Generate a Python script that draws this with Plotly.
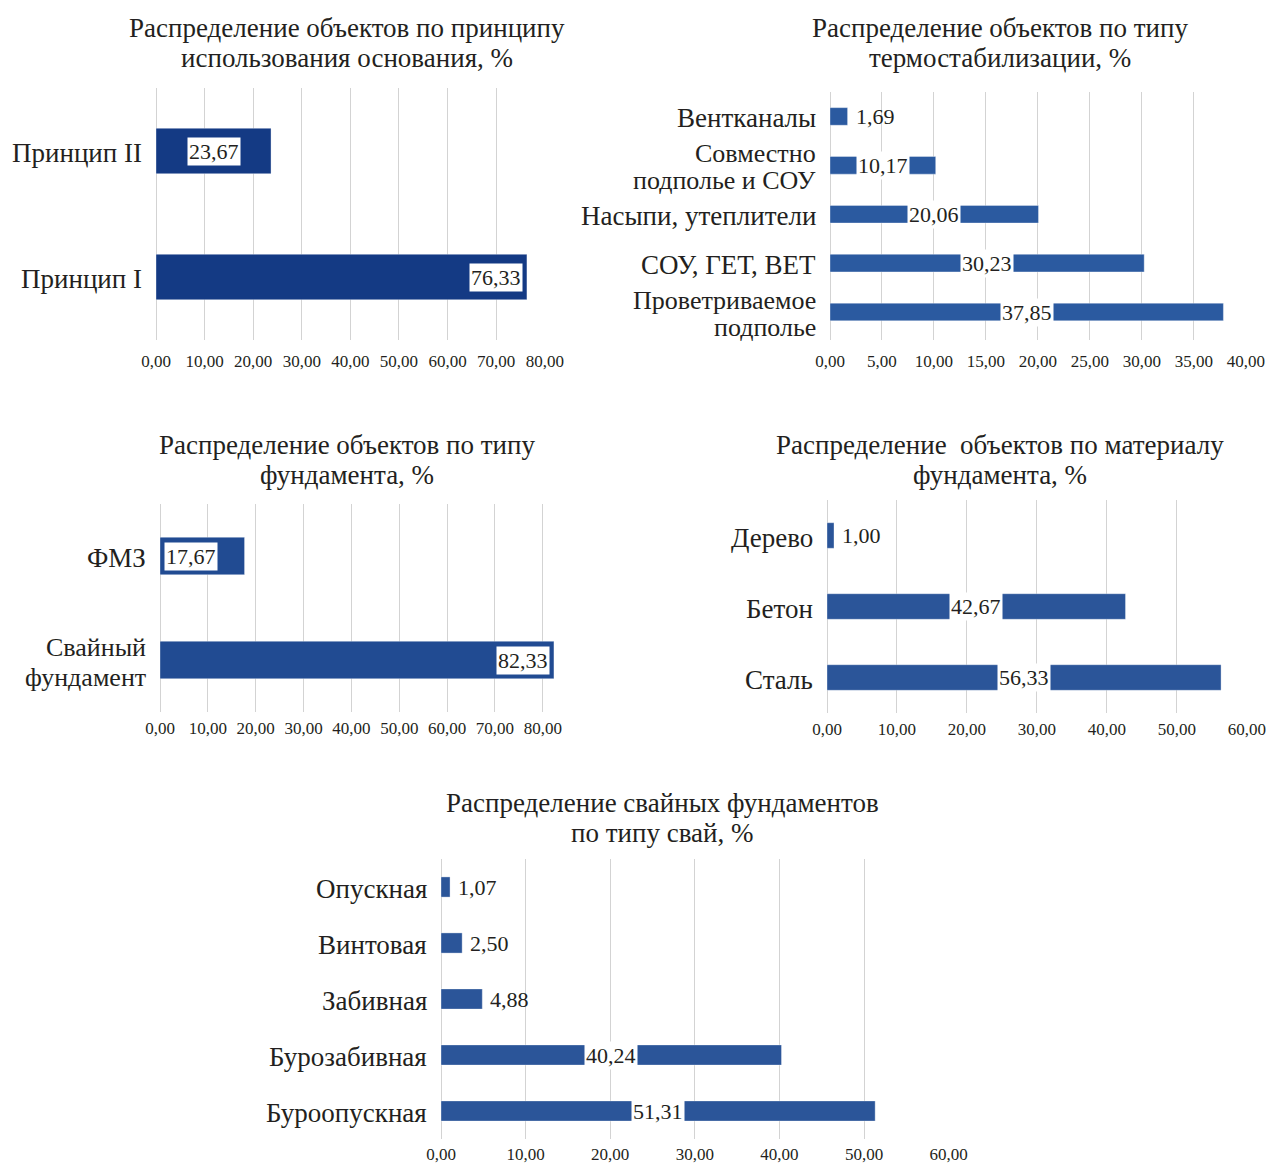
import plotly.graph_objects as go

W, H = 1269, 1165

# ---------------- data ----------------
p1_cats = ["Принцип II", "Принцип I"]
p1_vals = [23.67, 76.33]
p1_lab = ["center", "end"]

p2_cats = ["Вентканалы", "Совместно<br>подполье и СОУ", "Насыпи, утеплители",
           "СОУ, ГЕТ, ВЕТ", "Проветриваемое<br>подполье"]
p2_vals = [1.69, 10.17, 20.06, 30.23, 37.85]
p2_lab = ["outside", "center", "center", "center", "center"]

p3_cats = ["ФМЗ", "Свайный<br>фундамент"]
p3_vals = [17.67, 82.33]
p3_lab = ["base", "end"]

p4_cats = ["Дерево", "Бетон", "Сталь"]
p4_vals = [1.00, 42.67, 56.33]
p4_lab = ["outside", "center", "center"]

p5_cats = ["Опускная", "Винтовая", "Забивная", "Бурозабивная", "Буроопускная"]
p5_vals = [1.07, 2.50, 4.88, 40.24, 51.31]
p5_lab = ["outside", "outside", "outside", "center", "center"]

titles = [
    "Распределение объектов по принципу<br>использования основания, %",
    "Распределение объектов по типу<br>термостабилизации, %",
    "Распределение объектов по типу<br>фундамента, %",
    "Распределение  объектов по материалу<br>фундамента, %",
    "Распределение свайных фундаментов<br>по типу свай, %",
]

# ---------------- style / layout ----------------
FONT = "Liberation Serif, Times New Roman, serif"
TXT = "#231f20"
GRID = "#d3d3d3"

panels = [
    # cats, vals, labs, color, x0px, x1px, range, dtick, ytop, ybot, title cx, title y1, cat line gap, tick standoff
    (p1_cats, p1_vals, p1_lab, "#143a84", 156, 545, [0, 80], 10, 88, 340, 347, 28, 27, 9),
    (p2_cats, p2_vals, p2_lab, "#2b5aa0", 830, 1246, [0, 40], 5, 92, 340, 1000, 28, 27, 9),
    (p3_cats, p3_vals, p3_lab, "#214b92", 160, 555, [0, 82.5], 10, 504, 712, 347, 445, 30, 4),
    (p4_cats, p4_vals, p4_lab, "#2b5599", 827, 1247, [0, 60], 10, 500, 713, 1000, 445, 27, 4),
    (p5_cats, p5_vals, p5_lab, "#2b5599", 441, 949, [0, 60], 10, 859, 1139, 662, 803, 27, 3),
]

fig = go.Figure()
annotations = []
layout = {}

for i, (cats, vals, labs, color, x0, x1, rng, dt, yt, yb, tcx, tcy, gap, so) in enumerate(panels):
    n = i + 1
    xa = "x" if n == 1 else f"x{n}"
    ya = "y" if n == 1 else f"y{n}"
    fig.add_trace(go.Bar(
        x=vals, y=cats, orientation="h", xaxis=xa, yaxis=ya,
        marker=dict(color=color, line=dict(color="rgba(255,255,255,0.35)", width=1)),
        showlegend=False, hoverinfo="x+y",
    ))
    pad = rng[1] * 0.0006
    layout[f"xaxis{'' if n == 1 else n}"] = dict(
        domain=[x0 / W, x1 / W], range=[rng[0], rng[1] + pad], anchor=ya,
        dtick=dt, tick0=0, tickformat=".2f", automargin=False,
        ticklabeloverflow="allow",
        showgrid=True, gridcolor=GRID, gridwidth=1,
        zeroline=True, zerolinecolor=GRID, zerolinewidth=1,
        showline=False, ticks="", ticklabelstandoff=so,
        tickfont=dict(family=FONT, size=17, color=TXT), fixedrange=True,
    )
    layout[f"yaxis{'' if n == 1 else n}"] = dict(
        domain=[1 - yb / H, 1 - yt / H], anchor=xa, autorange="reversed",
        type="category", showgrid=False, zeroline=False, showline=False,
        ticks="", showticklabels=False, automargin=False, fixedrange=True,
    )
    # category labels (one text line per annotation for tight line spacing)
    for c in cats:
        lines = c.split("<br>")
        fs = 27 if len(lines) == 1 else 26
        for k, ln in enumerate(lines):
            annotations.append(dict(
                xref="paper", yref=ya, x=(x0 - 12) / W, y=c, text=ln,
                xanchor="right", yanchor="middle", showarrow=False,
                yshift=((len(lines) - 1) / 2 - k) * gap - 2,
                font=dict(family=FONT, size=fs, color=TXT),
            ))
    # value labels
    for c, v, mode in zip(cats, vals, labs):
        txt = f"{v:.2f}".replace(".", ",")
        a = dict(xref=xa, yref=ya, y=c, text=txt, showarrow=False,
                 font=dict(family=FONT, size=22, color=TXT))
        if mode == "center":
            a.update(x=v / 2, xanchor="center", bgcolor="white", borderpad=1)
        elif mode == "end":
            a.update(x=v, xanchor="right", xshift=-4, bgcolor="white", borderpad=1)
        elif mode == "base":
            a.update(x=0, xanchor="left", xshift=4, bgcolor="white", borderpad=1)
        else:
            a.update(x=v, xanchor="left", xshift=6)
        annotations.append(a)
    # title, line by line
    for k, ln in enumerate(titles[i].split("<br>")):
        annotations.append(dict(
            xref="paper", yref="paper", x=tcx / W, y=1 - (tcy + 30 * k) / H, text=ln,
            showarrow=False, xanchor="center", yanchor="middle",
            font=dict(family=FONT, size=27, color=TXT),
        ))

fig.update_layout(
    width=W, height=H, margin=dict(l=0, r=0, t=0, b=0),
    paper_bgcolor="white", plot_bgcolor="white",
    bargap=0.64, separators=",.",
    annotations=annotations, **layout,
)

fig.write_html("out.html", config={"displayModeBar": False})
